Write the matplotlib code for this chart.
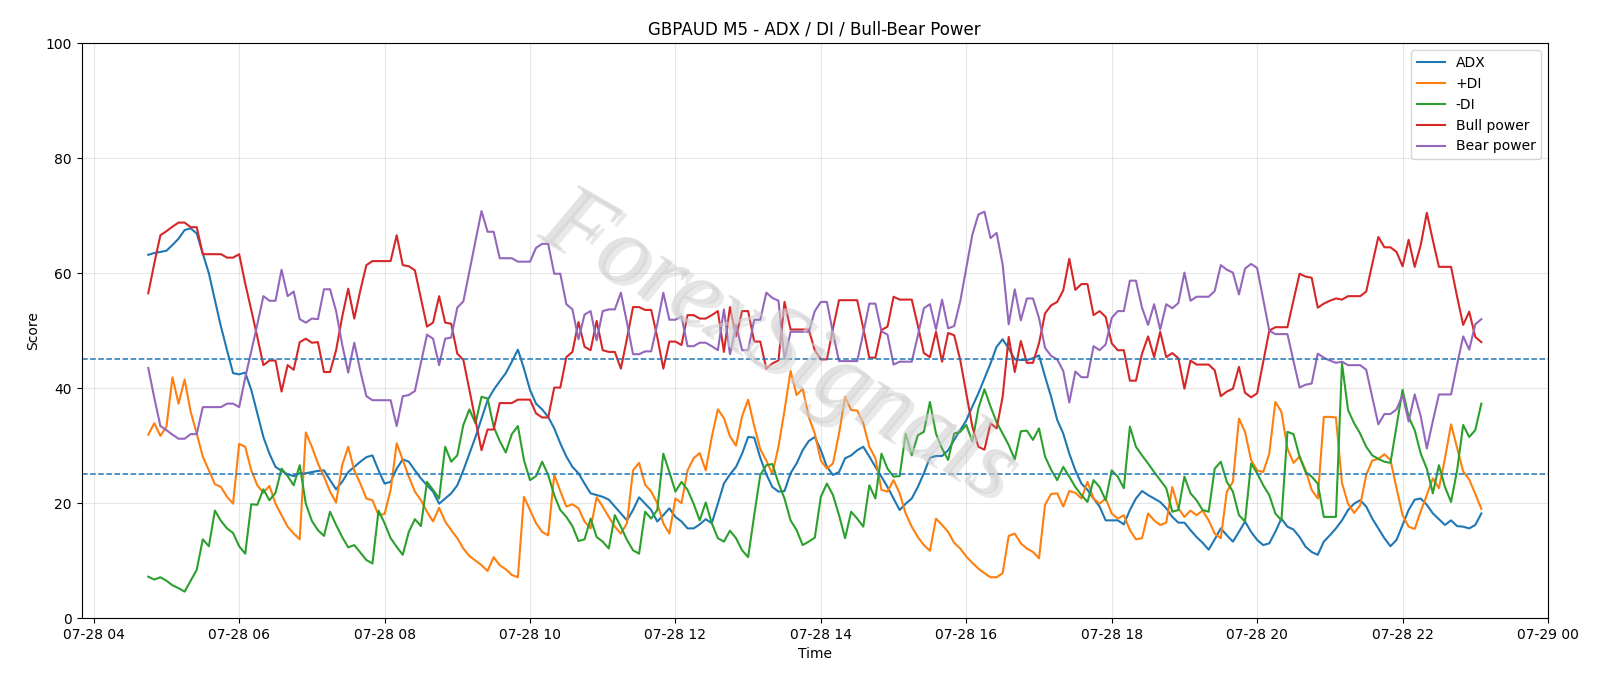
import matplotlib
matplotlib.use("Agg")
import matplotlib.pyplot as plt
import matplotlib.dates as mdates
import matplotlib.patheffects as pe
import pandas as pd

# 5-minute bars, 07-28 04:45 -> 23:05
times = pd.date_range("2024-07-28 04:45", periods=221, freq="5min")

adx = [63.2, 63.5, 63.7, 63.9, 64.9, 66.0, 67.5, 67.8, 66.9, 63.4, 60.0, 55.3, 50.7, 46.6, 42.6, 42.4, 42.7, 39.7, 35.6, 31.5,
       28.6, 26.3, 25.6, 25.0, 24.7, 25.2, 25.2, 25.4, 25.6, 25.7, 24.0, 22.4, 23.7, 25.4, 26.3, 27.2, 28.0,
       28.3, 25.7, 23.4, 23.7, 26.0, 27.6, 27.2, 25.7, 24.3, 23.1, 22.0, 19.9, 20.8, 21.7, 23.1, 25.7, 28.6, 31.5, 34.7,
       37.9, 39.7, 41.2, 42.6, 44.6, 46.7, 43.4, 39.7, 37.3, 36.3, 35.0, 33.0, 30.4, 28.1, 26.3, 25.2, 23.4, 21.7, 21.4,
       21.1, 20.6, 19.4, 18.2, 17.0, 18.8, 21.0, 19.9, 18.8, 16.8, 17.9, 19.1, 17.6, 16.8, 15.6, 15.6, 16.3, 17.2, 16.5,
       19.9, 23.4, 25.0, 26.3, 28.6, 31.5, 31.4, 27.9, 25.0, 22.8, 22.0, 22.1, 25.2, 26.9, 29.2, 30.8, 31.5, 29.2, 26.3,
       24.9, 25.4, 27.8, 28.3, 29.2, 29.8, 28.1, 26.3, 24.6, 22.8, 20.8, 18.8, 19.9, 20.8, 22.8, 25.2, 27.9, 28.2, 28.2,
       29.2, 31.0, 32.7, 34.4, 36.8, 39.1, 41.7, 44.3, 47.2, 48.5, 46.9, 45.0, 44.9, 44.9, 45.2, 45.7, 42.0,
       38.5, 34.5, 32.1, 28.6, 25.7, 23.4, 22.3, 20.8, 19.4, 17.0, 17.0, 17.0, 16.3, 18.8, 20.8, 22.1, 21.4, 20.8, 20.2,
       19.1, 17.6, 16.6, 16.6, 15.3, 14.1, 13.1, 11.9, 13.7, 15.6, 14.4, 13.3, 15.0, 16.8, 15.0, 13.6, 12.7, 13.0, 15.0,
       17.3, 15.9,
       15.4, 14.1, 12.4, 11.5, 11.0, 13.3, 14.4, 15.6, 17.0, 18.8, 19.9, 20.5, 19.4, 17.3, 15.6, 13.9, 12.5, 13.6, 16.2,
       18.8, 20.6, 20.8, 19.7, 18.2, 17.2, 16.2, 17.0, 16.0, 15.9, 15.6, 16.2, 18.2]

plus_di = [31.9, 33.9, 31.7, 33.3, 41.9, 37.3, 41.5, 35.9, 32.1, 28.1, 25.7, 23.3, 22.8, 21.1, 19.9, 30.3, 29.8, 25.7, 23.1,
           21.8, 23.0, 19.9, 17.9, 15.9, 14.7, 13.7, 32.3, 29.8, 26.9, 24.6, 22.0, 20.1, 26.6, 29.8, 25.7, 23.4, 20.8,
           20.5, 17.9, 18.1, 22.3, 30.4, 27.5, 24.6, 22.0, 20.5, 18.5, 16.8, 19.2, 16.8, 15.3, 13.9, 12.1, 10.8, 10.0, 9.2,
           8.2, 10.6, 9.2, 8.5, 7.5, 7.1, 21.1, 18.8, 16.5, 15.0, 14.4, 24.9, 22.1, 19.4, 19.8, 19.1, 16.8, 15.6, 21.0,
           19.4, 17.6, 15.9, 14.7, 16.5, 25.7, 27.0, 23.2, 22.0, 20.0, 16.5, 14.7, 20.8, 20.0, 25.7, 27.8, 28.7, 25.7, 31.5,
           36.3, 34.8, 31.6, 30.0, 35.1, 38.0, 33.4, 29.4, 27.4, 25.1, 29.8, 36.1, 43.0, 38.8, 39.9, 35.0, 32.1, 27.4, 26.0,
           26.9, 32.1, 38.5, 36.2, 36.1, 33.9, 29.8, 27.8, 22.3, 22.0, 24.0, 21.7, 18.2, 15.9, 14.1, 12.7, 11.7, 17.3, 16.2,
           15.0, 13.1, 12.1, 10.7, 9.6, 8.6, 7.8, 7.1, 7.1, 7.8, 14.3, 14.7, 13.0, 12.1, 11.5, 10.4, 19.7,
           21.6, 21.7, 19.4, 22.1, 21.8, 20.8, 23.7, 20.8, 19.9, 20.8, 18.2, 17.3, 17.9, 15.3, 13.7, 13.9, 18.2, 17.0, 16.2,
           16.6, 22.8, 19.1, 17.6, 18.7, 17.9, 18.7, 17.0, 14.7, 13.9, 22.0, 23.7, 34.7, 32.4, 27.5, 25.7, 25.4, 28.6, 37.6,
           35.9, 29.5,
           27.0, 28.1, 25.7, 22.3, 20.8, 35.0, 35.0, 34.9, 23.5, 19.9, 18.3, 19.6, 24.9, 27.4, 27.7, 28.5, 27.5, 22.6, 17.9,
           15.9, 15.5, 18.6, 21.4, 24.3, 22.6, 27.8, 33.7, 29.6, 25.5, 24.1, 21.6, 19.0]

minus_di = [7.2, 6.7, 7.1, 6.5, 5.7, 5.2, 4.6, 6.5, 8.4, 13.7, 12.5, 18.7, 16.9, 15.6, 14.8, 12.5, 11.2, 19.8, 19.7, 22.4,
            20.5, 21.8, 26.0, 24.7, 23.1, 26.6, 19.9, 16.9, 15.3, 14.3, 18.5, 16.2, 14.1, 12.3, 12.7, 11.4, 10.1,
            9.5, 18.7, 16.5, 13.9, 12.4, 11.0, 15.0, 17.2, 16.0, 23.7, 22.3, 20.8, 29.8, 27.2, 28.3, 33.6, 36.3, 33.9, 38.5,
            38.2, 33.3, 30.8, 28.8, 32.0, 33.4, 27.5, 24.0, 24.7, 27.2, 24.9, 21.4, 18.8, 17.6, 16.0, 13.4, 13.7, 17.3, 14.1,
            13.3, 12.1, 17.9, 15.9, 13.6, 11.8, 11.2, 18.5, 17.3, 18.8, 28.6, 25.4, 22.0, 23.7, 22.3, 19.9, 17.0, 20.1,
            16.5, 13.9, 13.3, 15.2, 13.9, 11.8, 10.6, 17.9, 24.9, 26.6, 26.8, 23.5, 20.8, 17.0, 15.3, 12.7, 13.3, 14.0,
            21.1, 23.4,
            21.4, 17.9, 13.9, 18.5, 17.3, 15.9, 23.1, 20.8, 28.6, 26.0, 24.6, 24.7, 32.1, 28.3, 31.8, 32.4, 37.6, 32.1, 29.5,
            27.5, 32.1, 32.4, 33.6, 30.7, 36.5, 39.8, 36.8, 34.1, 32.1, 30.1, 27.6, 32.5, 32.6, 31.0, 33.0, 28.1,
            25.8, 24.0, 26.3, 24.6, 22.8, 21.4, 20.2, 24.0, 22.8, 20.5, 25.7, 24.6, 22.6, 33.3, 29.8, 28.3, 26.9, 25.4, 24.0,
            22.6, 18.5, 18.8, 24.6, 21.7, 20.5, 18.8, 18.5, 26.0, 27.2, 23.7, 22.0, 17.9, 16.8, 26.9, 25.2, 23.1, 21.4, 18.2,
            17.0, 32.4,
            32.0, 28.1, 25.4, 24.6, 23.4, 17.6, 17.6, 17.6, 44.3, 36.2, 33.9, 32.1, 29.8, 28.3, 27.7, 27.2, 27.0, 33.4, 39.7,
            35.0, 32.7, 28.6, 26.0, 21.7, 26.6, 22.8, 20.2, 25.7, 33.6, 31.5, 32.7, 37.3]

bull = [56.5, 61.7, 66.6, 67.3, 68.1, 68.8, 68.8, 68.0, 68.0, 63.3, 63.3, 63.3, 63.3, 62.7, 62.7, 63.3, 58.2, 53.6, 48.9,
        44.0, 44.8, 44.8, 39.4, 44.0, 43.2, 48.0, 48.6, 47.9, 48.0, 42.8, 42.8, 46.6, 52.4, 57.3, 52.1, 57.0, 61.4,
        62.1, 62.1, 62.1, 62.1, 66.6, 61.4, 61.2, 60.5, 55.6, 50.7, 51.4, 56.0, 51.4, 51.2, 46.0, 44.9, 39.7, 34.4, 29.2,
        32.8, 32.8, 37.4, 37.4, 37.4, 38.0, 38.0, 38.0, 35.6, 34.9, 34.9, 40.1, 40.1, 45.4, 46.3, 51.5, 47.2, 46.6, 51.7,
        46.6, 46.3, 46.3, 43.4, 48.6, 54.1, 54.1, 53.6, 53.6, 48.9, 43.4, 48.1, 48.1, 47.5, 52.7, 52.7, 52.1, 52.1, 52.7,
        53.4, 46.3, 54.1, 49.0, 53.4, 53.4, 48.1, 48.1, 43.4, 44.3, 44.8, 55.0, 50.2, 50.2, 50.2, 50.2, 46.6, 45.0, 45.0,
        50.4, 55.3, 55.3, 55.3, 55.3, 50.4, 45.3, 45.3, 50.1, 50.7, 55.9, 55.4, 55.4, 55.4, 50.9, 46.1, 45.4, 49.8, 44.6,
        49.6, 49.2, 44.9, 39.1, 33.3, 29.8, 29.3, 33.9, 33.0, 38.5, 48.9, 42.8, 48.2, 44.4, 44.4, 47.8, 53.0,
        54.4, 55.0, 57.0, 62.5, 57.1, 58.1, 58.1, 52.7, 53.4, 52.4, 47.8, 46.6, 46.6, 41.3, 41.3, 46.0, 49.0, 45.4, 49.8,
        45.4, 46.1, 45.2, 39.9, 44.8, 44.1, 44.1, 44.1, 43.1, 38.6, 39.4, 39.9, 43.7, 39.2, 38.4, 39.1, 44.6, 50.0, 50.6,
        50.6, 50.6,
        55.3, 59.9, 59.4, 59.2, 54.0, 54.7, 55.2, 55.6, 55.4, 56.0, 56.0, 56.0, 56.8, 61.6, 66.3, 64.5, 64.5, 63.7, 61.2,
        65.8, 61.1, 64.9, 70.5, 65.7, 61.1, 61.1, 61.1, 55.9, 51.0, 53.3, 48.9, 48.0]

bear = [43.5, 38.3, 33.4, 32.7, 31.9, 31.2, 31.2, 32.0, 32.0, 36.7, 36.7, 36.7, 36.7, 37.3, 37.3, 36.7, 41.8, 46.4, 51.1,
        56.0, 55.2, 55.2, 60.6, 56.0, 56.8, 52.0, 51.4, 52.1, 52.0, 57.2, 57.2, 53.4, 47.6, 42.7, 47.9, 43.0, 38.6,
        37.9, 37.9, 37.9, 37.9, 33.4, 38.6, 38.8, 39.5, 44.4, 49.3, 48.6, 44.0, 48.6, 48.8, 54.0, 55.1, 60.3, 65.6, 70.8,
        67.2, 67.2, 62.6, 62.6, 62.6, 62.0, 62.0, 62.0, 64.4, 65.1, 65.1, 59.9, 59.9, 54.6, 53.7, 48.5, 52.8, 53.4, 48.3,
        53.4, 53.7, 53.7, 56.6, 51.4, 45.9, 45.9, 46.4, 46.4, 51.1, 56.6, 51.9, 51.9, 52.5, 47.3, 47.3, 47.9, 47.9, 47.3,
        46.6, 53.7, 45.9, 51.0, 46.6, 46.6, 51.9, 51.9, 56.6, 55.7, 55.2, 45.0, 49.8, 49.8, 49.8, 49.8, 53.4, 55.0, 55.0,
        49.6, 44.7, 44.7, 44.7, 44.7, 49.6, 54.7, 54.7, 49.9, 49.3, 44.1, 44.6, 44.6, 44.6, 49.1, 53.9, 54.6, 50.2, 55.4,
        50.4, 50.8, 55.1, 60.9, 66.7, 70.2, 70.7, 66.1, 67.0, 61.5, 51.1, 57.2, 51.8, 55.6, 55.6, 52.2, 47.0,
        45.6, 45.0, 43.0, 37.5, 42.9, 41.9, 41.9, 47.3, 46.6, 47.6, 52.2, 53.4, 53.4, 58.7, 58.7, 54.0, 51.0, 54.6, 50.2,
        54.6, 53.9, 54.8, 60.1, 55.2, 55.9, 55.9, 55.9, 56.9, 61.4, 60.6, 60.1, 56.3, 60.8, 61.6, 60.9, 55.4, 50.0, 49.4,
        49.4, 49.4,
        44.7, 40.1, 40.6, 40.8, 46.0, 45.3, 44.8, 44.4, 44.6, 44.0, 44.0, 44.0, 43.2, 38.4, 33.7, 35.5, 35.5, 36.3, 38.8,
        34.2, 38.9, 35.1, 29.5, 34.3, 38.9, 38.9, 38.9, 44.1, 49.0, 46.7, 51.1, 52.0]

upper_level = 45
lower_level = 25

fig = plt.figure(figsize=(16, 6.86), dpi=100)
ax = fig.add_axes([0.051, 0.099, 0.9165, 0.838])

ax.plot(times, adx, label="ADX", lw=1.5)
ax.plot(times, plus_di, label="+DI", lw=1.5)
ax.plot(times, minus_di, label="-DI", lw=1.5)
ax.plot(times, bull, label="Bull power", lw=1.5)
ax.plot(times, bear, label="Bear power", lw=1.5)
ax.axhline(upper_level, ls="--", lw=1.1, color="C0")
ax.axhline(lower_level, ls="--", lw=1.1, color="C0")

ax.set_ylim(0, 100)
ax.xaxis.set_major_locator(mdates.HourLocator(byhour=range(0, 24, 2)))
ax.xaxis.set_major_formatter(mdates.DateFormatter("%m-%d %H"))
ax.grid(True, alpha=0.3)
ax.set_title("GBPAUD M5 - ADX / DI / Bull-Bear Power")
ax.set_xlabel("Time")
ax.set_ylabel("Score")
ax.legend(loc="upper right")

# watermark, thin grey script with a soft shadow
ax.text(0.475, 0.47, "ForexSignals", transform=ax.transAxes, fontsize=72, style="italic",
        family="Liberation Serif", color="#d0d0d0", alpha=0.6, rotation=-30,
        ha="center", va="center", zorder=5,
        path_effects=[pe.withSimplePatchShadow(offset=(3, -3), shadow_rgbFace="#aaaaaa", alpha=0.25)])

fig.savefig("out.png", dpi=100)
